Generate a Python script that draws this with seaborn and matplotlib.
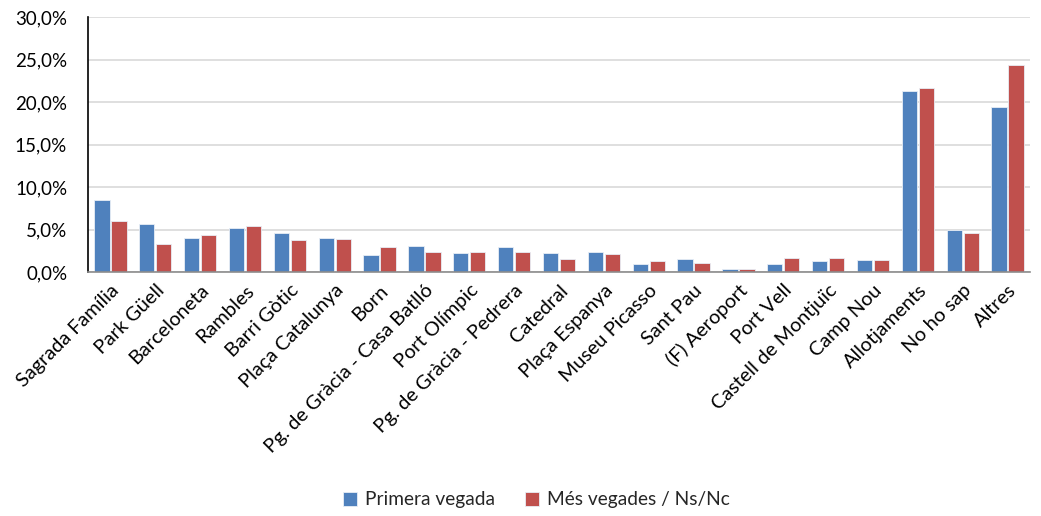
import matplotlib
matplotlib.use("Agg")
import matplotlib.pyplot as plt
import seaborn as sns
import pandas as pd
from matplotlib.ticker import FuncFormatter, MultipleLocator

categories = ["Sagrada Família", "Park Güell", "Barceloneta", "Rambles", "Barri Gòtic",
              "Plaça Catalunya", "Born", "Pg. de Gràcia - Casa Batlló", "Port Olímpic",
              "Pg. de Gràcia - Pedrera", "Catedral", "Plaça Espanya", "Museu Picasso",
              "Sant Pau", "(F) Aeroport", "Port Vell", "Castell de Montjuïc", "Camp Nou",
              "Allotjaments", "No ho sap", "Altres"]
primera = [8.5, 5.6, 4.0, 5.2, 4.6, 4.0, 2.0, 3.1, 2.2, 2.9, 2.2, 2.3, 0.9, 1.5, 0.3,
           0.9, 1.3, 1.4, 21.3, 4.9, 19.4]
mes = [6.0, 3.3, 4.3, 5.4, 3.8, 3.9, 2.9, 2.4, 2.4, 2.4, 1.5, 2.1, 1.3, 1.1, 0.3,
       1.7, 1.7, 1.4, 21.7, 4.6, 24.4]
series_names = ["Primera vegada", "Més vegades / Ns/Nc"]
colors = ["#4F81BD", "#C0504D"]

df = pd.DataFrame({
    "cat": categories * 2,
    "val": primera + mes,
    "serie": [series_names[0]] * len(categories) + [series_names[1]] * len(categories),
})

sns.set_theme(style="white")
plt.rcParams["font.family"] = ["Lato", "DejaVu Sans"]

fig = plt.figure(figsize=(10.41, 5.16), dpi=100)
ax = fig.add_axes([88 / 1041, 1 - 272 / 516, (1030 - 88) / 1041, (272 - 17) / 516])

sns.barplot(data=df, x="cat", y="val", hue="serie", palette=colors, ax=ax,
            width=0.76, gap=0.1, edgecolor="#e8eef6", linewidth=0.6, saturation=1)

ax.set_ylim(0, 30)
ax.set_xlim(-0.5, len(categories) - 0.5)
ax.yaxis.set_major_locator(MultipleLocator(5))
ax.yaxis.set_major_formatter(FuncFormatter(lambda v, p: f"{v:.1f}%".replace(".", ",")))
ax.grid(axis="y", color="#d9d9d9", linewidth=1.2)
ax.set_axisbelow(True)
ax.set_xlabel("")
ax.set_ylabel("")
for s in ["top", "right"]:
    ax.spines[s].set_visible(False)
ax.spines["left"].set_color("black")
ax.spines["left"].set_linewidth(1.2)
ax.spines["bottom"].set_color("#8c8c8c")
ax.spines["bottom"].set_linewidth(1.2)
ax.tick_params(axis="y", labelsize=13.5, length=0, pad=15, colors="black")
ax.tick_params(axis="x", labelsize=14.3, length=0, pad=7, colors="black")
plt.setp(ax.get_xticklabels(), rotation=45, ha="right", rotation_mode="anchor")

ax.legend(loc="center", bbox_to_anchor=(0.476, (272 - 500) / 255), ncol=2, frameon=False,
          fontsize=13.8, handlelength=0.72, handleheight=0.72, columnspacing=1.6,
          handletextpad=0.4)

fig.savefig("out.png", dpi=100)
